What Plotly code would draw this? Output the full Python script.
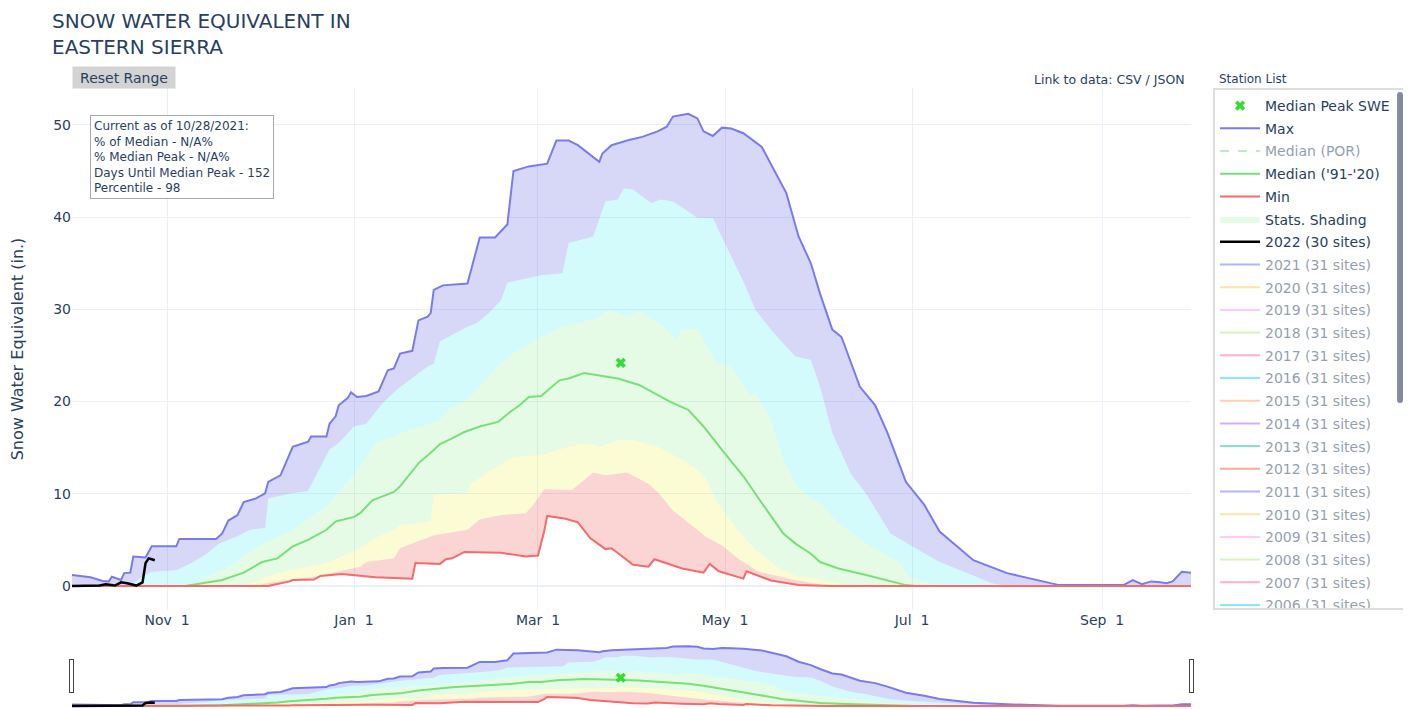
import plotly.graph_objects as go

# Water-year day axis (Oct 1 .. Sep 30); Oct-Dec in 2019, Jan-Sep in 2020
WY_START = 2019


def wy(md_list):
    out = []
    for md in md_list:
        m = int(md[:2])
        yr = WY_START if m >= 10 else WY_START + 1
        out.append(f"{yr}-{md}")
    return out


# ---------------- data (inches of SWE) ----------------
max_dates = ["10-01", "10-07", "10-11", "10-13", "10-14", "10-17", "10-18", "10-20", "10-21", "10-25",
             "10-27", "11-04", "11-05", "11-17", "11-19", "11-21", "11-24", "11-26", "11-30", "12-03",
             "12-04", "12-08", "12-12", "12-17", "12-18", "12-23", "12-24", "12-26", "12-27", "12-30",
             "12-31", "01-02", "01-05", "01-09", "01-12", "01-14", "01-16", "01-20", "01-22", "01-25",
             "01-26", "01-27", "01-30", "02-07", "02-11", "02-16", "02-20", "02-22", "02-27", "03-04",
             "03-07", "03-11", "03-14", "03-21", "03-22", "03-25", "03-31", "04-04", "04-09", "04-12",
             "04-14", "04-19", "04-22", "04-24", "04-27", "04-30", "05-03", "05-07", "05-13", "05-21",
             "05-25", "05-29", "06-01", "06-05", "06-08", "06-14", "06-19", "06-23", "06-29", "07-05",
             "07-10", "07-21", "08-01", "08-18", "09-08", "09-11", "09-14", "09-17", "09-20", "09-22",
             "09-24", "09-27", "09-30"]
max_vals = [1.2, 0.95, 0.55, 0.5, 1.0, 0.65, 1.4, 1.45, 3.2, 3.1,
            4.3, 4.3, 5.1, 5.1, 5.7, 7.1, 7.7, 9.1, 9.5, 10.05,
            11.3, 12.0, 15.1, 15.65, 16.2, 16.2, 17.6, 18.4, 19.6, 20.4,
            21.0, 20.5, 20.6, 21.1, 23.4, 23.6, 25.2, 25.5, 28.8, 29.2,
            29.6, 32.1, 32.6, 32.8, 37.8, 37.8, 39.2, 45.0, 45.5, 45.8,
            48.3, 48.3, 47.8, 46.0, 46.9, 47.8, 48.4, 48.7, 49.3, 49.8,
            50.9, 51.2, 50.7, 49.3, 48.8, 49.7, 49.6, 49.1, 47.6, 42.6,
            37.9, 35.0, 31.7, 27.8, 27.0, 21.6, 19.6, 16.6, 11.3, 8.8,
            5.9, 2.8, 1.4, 0.1, 0.1, 0.65, 0.2, 0.5, 0.4, 0.3,
            0.5, 1.55, 1.45]

p90_dates = ["10-01", "10-19", "10-21", "10-24", "10-27", "11-04", "11-09", "11-14", "11-18", "11-24",
             "11-28", "12-03", "12-04", "12-11", "12-17", "12-20", "12-24", "12-27", "01-01", "01-05",
             "01-10", "01-15", "01-20", "01-25", "01-27", "01-29", "02-07", "02-10", "02-14", "02-18",
             "02-20", "03-02", "03-09", "03-11", "03-19", "03-21", "03-23", "03-27", "03-29", "04-01",
             "04-07", "04-10", "04-14", "04-19", "04-22", "04-27", "05-03", "05-07", "05-11", "05-16",
             "05-20", "05-24", "05-29", "06-01", "06-05", "06-11", "06-16", "06-24", "07-01", "07-10",
             "07-19", "07-27", "08-01", "09-30"]
p90_vals = [0, 0, 0.3, 1.0, 1.55, 1.7, 2.5, 3.5, 4.6, 5.4,
            6.1, 6.3, 9.5, 10.0, 10.3, 12.2, 14.8, 15.5, 17.3, 17.6,
            19.7, 21.3, 22.6, 23.8, 24.1, 26.5, 28.1, 28.5, 29.6, 31.0,
            32.9, 33.7, 33.9, 37.2, 37.9, 39.7, 41.7, 41.9, 43.1, 43.0,
            41.5, 41.9, 41.7, 40.6, 39.9, 39.9, 35.7, 33.0, 29.9, 27.8,
            26.3, 24.9, 24.5, 21.6, 16.6, 12.2, 10.0, 5.7, 4.3, 2.6,
            1.4, 0.3, 0, 0]

p70_dates = ["10-01", "11-07", "11-09", "11-21", "12-01", "12-12", "12-23", "12-28", "01-03", "01-08",
             "01-14", "01-19", "01-25", "01-29", "02-01", "02-08", "02-18", "02-22", "03-02", "03-09",
             "03-20", "03-24", "03-30", "04-03", "04-11", "04-15", "04-17", "04-22", "04-28", "05-03",
             "05-09", "05-11", "05-16", "05-20", "05-24", "05-29", "06-01", "06-07", "06-16", "06-27",
             "06-30", "07-08", "07-13", "09-30"]
p70_vals = [0, 0, 0.2, 2.1, 4.3, 6.1, 8.6, 10.6, 12.9, 15.5,
            16.2, 16.9, 17.5, 18.0, 19.1, 20.5, 24.2, 25.2, 27.0, 28.1,
            29.0, 29.9, 29.2, 29.8, 28.1, 26.7, 27.8, 27.9, 24.2, 23.8,
            20.7, 20.9, 18.0, 13.7, 11.0, 9.5, 9.0, 6.8, 4.6, 2.5,
            1.0, 0.1, 0, 0]

p30_dates = ["10-01", "11-26", "12-07", "12-23", "01-03", "01-08", "01-14", "01-16", "01-26", "01-27",
             "02-07", "02-08", "02-15", "02-22", "03-02", "03-11", "03-17", "03-21", "03-27", "04-01",
             "04-09", "04-17", "04-22", "04-25", "04-28", "05-05", "05-11", "05-18", "05-24", "06-01",
             "06-07", "06-17", "09-30"]
p30_vals = [0, 0, 1.4, 2.5, 4.1, 5.2, 6.1, 6.6, 7.0, 9.9,
            10.1, 11.1, 12.6, 14.0, 14.2, 15.1, 15.5, 15.1, 15.8, 15.8,
            15.1, 13.7, 12.6, 11.5, 9.3, 6.1, 3.9, 2.1, 1.1, 0.7,
            0.3, 0, 0]

p10_dates = ["10-01", "12-01", "12-03", "12-11", "12-19", "01-03", "01-05", "01-14", "01-16", "01-27",
             "02-07", "02-11", "02-18", "02-26", "02-28", "03-03", "03-12", "03-15", "03-19", "03-23",
             "03-30", "04-06", "04-09", "04-14", "04-21", "04-25", "04-30", "05-06", "05-12", "05-23",
             "06-04", "09-30"]
p10_vals = [0, 0, 0.3, 0.65, 1.0, 2.1, 2.6, 3.0, 4.1, 5.5,
            6.1, 7.2, 7.7, 7.9, 8.6, 10.5, 10.4, 11.2, 12.3, 12.0,
            12.3, 11.1, 10.2, 8.2, 6.4, 5.3, 4.4, 2.8, 1.55, 0.7,
            0, 0]

min_dates = ["10-01", "12-04", "12-11", "12-12", "12-19", "12-21", "12-28", "01-08", "01-20", "01-21",
             "01-29", "01-31", "02-02", "02-06", "02-18", "02-26", "03-01", "03-03", "03-04", "03-10",
             "03-14", "03-18", "03-23", "03-25", "04-01", "04-06", "04-08", "04-17", "04-24", "04-26",
             "04-29", "05-07", "05-08", "05-16", "05-25", "06-04", "09-30"]
min_vals = [0, 0, 0.5, 0.65, 0.7, 1.1, 1.3, 0.95, 0.8, 2.5,
            2.4, 2.9, 3.0, 3.7, 3.6, 3.2, 3.3, 5.9, 7.6, 7.3,
            6.9, 5.2, 4.0, 4.1, 2.3, 2.1, 2.9, 1.9, 1.45, 2.4,
            1.6, 0.8, 1.6, 0.6, 0.1, 0, 0]

med_dates = ["10-01", "11-07", "11-19", "11-26", "12-02", "12-07", "12-12", "12-17", "12-23", "12-26",
             "01-01", "01-03", "01-07", "01-14", "01-16", "01-22", "01-27", "01-29", "02-02", "02-06",
             "02-11", "02-17", "02-21", "02-24", "02-27", "03-02", "03-08", "03-11", "03-16", "03-20",
             "03-27", "04-03", "04-09", "04-13", "04-19", "04-24", "04-30", "05-07", "05-13", "05-20",
             "05-24", "05-29", "06-01", "06-07", "06-16", "06-29", "07-02", "09-30"]
med_vals = [0, 0, 0.65, 1.45, 2.6, 3.0, 4.3, 5.0, 6.1, 7.0,
            7.5, 7.9, 9.3, 10.2, 10.8, 13.3, 14.75, 15.4, 16.0, 16.7,
            17.3, 17.8, 18.9, 19.6, 20.5, 20.6, 22.3, 22.5, 23.1, 22.9,
            22.5, 21.8, 20.7, 20.0, 19.1, 17.3, 14.75, 11.9, 9.0, 5.7,
            4.6, 3.5, 2.6, 1.9, 1.2, 0.1, 0, 0]

cur_dates = ["10-01", "10-05", "10-10", "10-12", "10-14", "10-15", "10-17", "10-19", "10-22", "10-24",
             "10-25", "10-26", "10-27", "10-28"]
cur_vals = [0, 0, 0.05, 0.2, 0.1, 0.05, 0.4, 0.3, 0.05, 0.4,
            2.5, 3.0, 2.9, 2.8]

peak_date = ["03-28"]
peak_val = [24.2]

hist_years = list(range(2021, 1990, -1))
hist_sites = 31
colorway = ["#636efa", "#EF553B", "#00cc96", "#ab63fa", "#FFA15A",
            "#19d3f3", "#FF6692", "#B6E880", "#FF97FF", "#FECB52"]

info_lines = ["Current as of 10/28/2021:", "% of Median - N/A%", "% Median Peak - N/A%",
              "Days Until Median Peak - 152", "Percentile - 98"]

FONT = "DejaVu Sans, Verdana, sans-serif"
TXT = "#2a3f5f"

fig = go.Figure()

# ---- statistics shading (stacked tonexty fills) ----
fig.add_trace(go.Scatter(x=wy(min_dates), y=min_vals, mode="lines", line=dict(width=0),
                         showlegend=False, hoverinfo="skip", legendgroup="stats", legendrank=6))
bands = [
    (p10_dates, p10_vals, "rgba(230,0,0,0.17)", False),
    (p30_dates, p30_vals, "rgba(230,230,0,0.17)", False),
    (p70_dates, p70_vals, "rgba(50,220,50,0.12)", True),
    (p90_dates, p90_vals, "rgba(0,230,230,0.17)", False),
    (max_dates, max_vals, "rgba(110,110,230,0.28)", False),
]
for d, v, c, show in bands:
    fig.add_trace(go.Scatter(x=wy(d), y=v, mode="lines", line=dict(width=0), fill="tonexty",
                             fillcolor=c, name="Stats. Shading", legendgroup="stats",
                             showlegend=show, legendrank=6, hoverinfo="skip"))

# ---- lines ----
fig.add_trace(go.Scatter(x=wy(max_dates), y=max_vals, mode="lines", name="Max",
                         line=dict(color="rgb(122,122,240)", width=2), legendrank=2))
fig.add_trace(go.Scatter(x=[None], y=[None], mode="lines", name="Median (POR)",
                         line=dict(color="#77e077", width=2, dash="dash"),
                         visible="legendonly", legendrank=3))
fig.add_trace(go.Scatter(x=wy(med_dates), y=med_vals, mode="lines", name="Median ('91-'20)",
                         line=dict(color="#77e077", width=2), legendrank=4))
fig.add_trace(go.Scatter(x=wy(min_dates), y=min_vals, mode="lines", name="Min",
                         line=dict(color="#f36b6b", width=2), legendrank=5))
fig.add_trace(go.Scatter(x=wy(cur_dates), y=cur_vals, mode="lines", name="2022 (30 sites)",
                         line=dict(color="black", width=2.5), legendrank=7))
for i, yr in enumerate(hist_years):
    fig.add_trace(go.Scatter(x=[None], y=[None], mode="lines", name=f"{yr} ({hist_sites} sites)",
                             line=dict(color=colorway[(yr - 1991) % 10], width=2),
                             visible="legendonly", legendrank=8 + i))
fig.add_trace(go.Scatter(x=wy(peak_date), y=peak_val, mode="markers", name="Median Peak SWE",
                         marker=dict(symbol="x", size=9, color="#33dd33"), legendrank=1))

fig.update_layout(
    template="plotly_white",
    width=1403, height=701,
    font=dict(family=FONT, color=TXT, size=14),
    margin=dict(l=64, r=220, t=80, b=0),
    showlegend=True,
    hovermode=False,
    legend=dict(x=1.0197, xanchor="left", y=1, yanchor="top", bgcolor="white",
                bordercolor="#dddddd", borderwidth=2, font=dict(size=14, family=FONT),
                itemwidth=40, traceorder="grouped", tracegroupgap=1.5),
    xaxis=dict(tickformat="%b %e", dtick="M2", tick0="2019-11-01", showgrid=True,
               tickfont=dict(size=14), automargin=False,
               rangeslider=dict(visible=True, thickness=0.106, bgcolor="white")),
    yaxis=dict(title=dict(text="Snow Water Equivalent (in.)", font=dict(size=16), standoff=34),
               range=[-2.6, 54], dtick=10, tickfont=dict(size=14), zeroline=True,
               automargin=False),
    annotations=[
        dict(text="SNOW WATER EQUIVALENT IN<br>EASTERN SIERRA", xref="paper", yref="paper",
             x=-0.0197, y=1.1044, xanchor="left", yanchor="middle", align="left",
             showarrow=False, font=dict(size=20, family=FONT, color=TXT)),
        dict(text="Reset Range", xref="paper", yref="paper", x=0.0465, y=1.0201,
             xanchor="center", yanchor="middle", showarrow=False, width=98, height=17,
             bgcolor="#d3d3d3", borderpad=2, font=dict(size=14, family=FONT, color=TXT)),
        dict(text="<br>".join(info_lines), xref="paper", yref="paper", x=0.0161, y=0.9483,
             xanchor="left", yanchor="top", align="left", showarrow=False,
             bordercolor="#aaaaaa", borderwidth=1, borderpad=3, bgcolor="white",
             font=dict(size=12, family=FONT, color=TXT)),
        dict(text="Link to data: CSV / JSON", xref="paper", yref="paper", x=0.9964, y=1.017,
             xanchor="right", yanchor="middle", showarrow=False,
             font=dict(size=12.5, family=FONT, color=TXT)),
        dict(text="Station List", xref="paper", yref="paper", x=1.0232, y=1.017,
             xanchor="left", yanchor="middle", showarrow=False,
             font=dict(size=12, family=FONT, color=TXT)),
    ],
)

fig.write_html("out.html")
